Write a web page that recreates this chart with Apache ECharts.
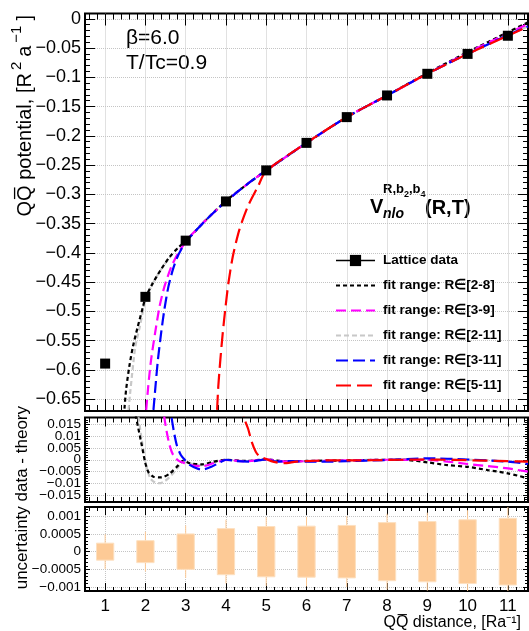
<!DOCTYPE html>
<html><head><meta charset="utf-8">
<script src="https://cdn.jsdelivr.net/npm/echarts@6/dist/echarts.min.js"></script>
<style>html,body{margin:0;padding:0;background:#fff}#c{width:529px;height:631px}</style>
</head><body><div id="c"></div>
<script>
// ---------- data ----------
const R = [1, 2, 3, 4, 5, 6, 7, 8, 9, 10, 11];
const latticeV = [-0.589, -0.475, -0.379, -0.312, -0.259, -0.212, -0.168, -0.131, -0.094, -0.060, -0.029];

const fit28 = [[1.48,-0.666],[1.52,-0.634],[1.60,-0.594],[1.69,-0.560],[1.81,-0.526],[1.94,-0.492],[2.0,-0.477],[2.18,-0.452],[2.38,-0.429],[2.6,-0.407],[2.8,-0.392],[3.0,-0.380],[3.5,-0.344],[4,-0.311],[4.5,-0.284],[5,-0.259],[6,-0.212],[7,-0.168],[8,-0.131],[9,-0.093],[10,-0.057],[11,-0.023],[11.5,-0.006]];
const fit39 = [[2.02,-0.668],[2.07,-0.628],[2.14,-0.583],[2.24,-0.537],[2.35,-0.492],[2.47,-0.458],[2.64,-0.424],[2.80,-0.402],[2.93,-0.388],[3.0,-0.380],[3.5,-0.344],[4,-0.312],[4.5,-0.284],[5,-0.259],[6,-0.212],[7,-0.168],[8,-0.131],[9,-0.094],[10,-0.058],[11,-0.025],[11.5,-0.009]];
const fit211 = [[1.58,-0.668],[1.62,-0.640],[1.69,-0.594],[1.75,-0.560],[1.86,-0.526],[1.96,-0.492],[2.0,-0.479],[2.2,-0.450],[2.4,-0.427],[2.6,-0.408],[2.8,-0.392],[3.0,-0.379],[3.5,-0.344],[4,-0.312],[4.5,-0.284],[5,-0.259],[6,-0.212],[7,-0.168],[8,-0.131],[9,-0.094],[10,-0.060],[11,-0.028],[11.5,-0.013]];
const fit311 = [[2.20,-0.668],[2.25,-0.628],[2.31,-0.583],[2.39,-0.537],[2.47,-0.497],[2.57,-0.458],[2.68,-0.429],[2.80,-0.406],[2.93,-0.389],[3.0,-0.381],[3.5,-0.344],[4,-0.312],[4.5,-0.284],[5,-0.259],[6,-0.212],[7,-0.168],[8,-0.131],[9,-0.094],[10,-0.060],[11,-0.028],[11.5,-0.013]];
const fit511 = [[3.78,-0.668],[3.81,-0.628],[3.86,-0.583],[3.92,-0.537],[3.99,-0.492],[4.06,-0.452],[4.17,-0.406],[4.33,-0.361],[4.54,-0.321],[4.79,-0.287],[5.0,-0.260],[6,-0.212],[7,-0.168],[8,-0.131],[9,-0.094],[10,-0.060],[11,-0.029],[11.5,-0.013]];

const res28 = [[1.70,0.025],[1.77,0.018],[1.84,0.012],[1.91,0.0062],[1.99,-0.0008],[2.07,-0.0051],[2.2,-0.0072],[2.4,-0.0075],[2.61,-0.0058],[2.82,-0.0023],[2.94,-0.0004],[3.1,-0.0015],[3.4,-0.0020],[3.69,-0.0008],[4.0,0],[4.5,-0.0005],[5.0,0.0002],[5.5,-0.0008],[6,-0.0005],[7,-0.0003],[8,0],[8.5,-0.0001],[9,-0.0011],[9.5,-0.0023],[10,-0.0030],[10.5,-0.0044],[11,-0.0058],[11.5,-0.0079]];
const res39 = [[2.42,0.025],[2.47,0.018],[2.53,0.0118],[2.60,0.0062],[2.69,0.0020],[2.82,-0.0004],[2.98,-0.0015],[3.19,-0.0025],[3.44,-0.0027],[3.69,-0.0015],[4,-0.0001],[4.5,-0.0007],[5,0.0002],[5.5,-0.0008],[6,-0.0006],[7,-0.0003],[8,0],[9,-0.0001],[9.5,-0.0008],[10,-0.0018],[10.5,-0.0027],[11,-0.0037],[11.5,-0.0051]];
const res211 = [[1.78,0.025],[1.83,0.018],[1.93,0.0062],[2.02,-0.0023],[2.12,-0.0079],[2.24,-0.0097],[2.35,-0.0100],[2.49,-0.0090],[2.65,-0.0065],[2.82,-0.0030],[2.94,-0.0008],[3.19,-0.0020],[3.44,-0.0023],[3.77,-0.0008],[4,0],[4.5,-0.0006],[5,0.0001],[5.5,-0.0007],[6,-0.0006],[7,-0.0002],[8,0],[9,0.0003],[10,0],[11,-0.0006],[11.5,-0.0010]];
const res311 = [[2.61,0.025],[2.65,0.018],[2.71,0.0118],[2.78,0.0062],[2.88,0.0020],[2.98,-0.0001],[3.11,-0.0023],[3.31,-0.0039],[3.44,-0.0041],[3.64,-0.0030],[3.85,-0.0011],[4,0],[4.26,-0.0006],[4.6,-0.0008],[5,0.0002],[5.26,-0.0008],[5.59,-0.0006],[6,-0.0008],[6.5,-0.0008],[7,-0.0006],[8,-0.0001],[9,0.0006],[10,0.0001],[11,-0.0008],[11.5,-0.0018]];
const res511 = [[4.42,0.025],[4.45,0.018],[4.55,0.0132],[4.64,0.0076],[4.74,0.0034],[4.84,0.0013],[5.0,0.0003],[5.17,-0.0008],[5.42,-0.0015],[5.75,-0.0008],[6,-0.0006],[6.5,-0.0003],[7,-0.0003],[8,-0.0001],[9,0.0001],[10,-0.0002],[11,-0.0006],[11.5,-0.0008]];

const uncBox = [0.00024, 0.00031, 0.00050, 0.00065, 0.00071, 0.00072, 0.00074, 0.00082, 0.00085, 0.00090, 0.00094];
const uncWhisk = [0.00049, 0.00056, 0.00074, 0.00090, 0.00097, 0.00098, 0.00100, 0.00107, 0.00110, 0.00117, 0.00130];

const xTicks = [1, 2, 3, 4, 5, 6, 7, 8, 9, 10, 11];
const topYTicks = [0, -0.05, -0.1, -0.15, -0.2, -0.25, -0.3, -0.35, -0.4, -0.45, -0.5, -0.55, -0.6, -0.65];
const midYTicks = [0.015, 0.01, 0.005, 0, -0.005, -0.01, -0.015];
const botYTicks = [0.001, 0.0005, 0, -0.0005, -0.001];

const seriesNames = ['Lattice data', 'fit range: R\u2208[2-8]', 'fit range: R\u2208[3-9]', 'fit range: R\u2208[2-11]', 'fit range: R\u2208[3-11]', 'fit range: R\u2208[5-11]'];

// ---------- helpers ----------
const FONT = '"Liberation Sans", Arial, Helvetica, sans-serif';
function minorTicks(min, max, step, majors) {
  const out = [];
  const n0 = Math.ceil(min / step - 1e-9), n1 = Math.floor(max / step + 1e-9);
  for (let i = n0; i <= n1; i++) {
    const v = +(i * step).toFixed(8);
    if (!majors.some(m => Math.abs(m - v) < step * 1e-3)) out.push(v);
  }
  return out;
}
const fmt = v => String(+v.toFixed(6)).replace('-', '\u2212');
const grids = [
  { left: 85, width: 443, top: 13.5, height: 397.5 },
  { left: 85, width: 443, top: 417.5, height: 84.5 },
  { left: 85, width: 443, top: 507, height: 84 }
];
const xR = [0.5, 11.5];
const yR = [[-0.67, 0.009], [-0.018, 0.018], [-0.00111, 0.00126]];
const yMaj = [topYTicks, midYTicks, botYTicks];
const yMinStep = [0.01, 0.001, 0.0001];
const tickLen = [[12, 6, 10, 5], [9, 5, 5, 3], [8, 4, 5, 3]];
const ySize = [18, 13.5, 13.5];
// label sets: the densely packed middle panel puts alternate labels on two axes
const yLabelSets = [
  [topYTicks, null],
  [midYTicks.filter((v, i) => i % 2 === 0), midYTicks.filter((v, i) => i % 2 === 1)],
  [botYTicks, null]
];

const xAxes = [], yAxes = [];
const gridLine = { show: true, lineStyle: { color: '#c4c4c4', type: 'dotted', width: 1 } };
grids.forEach((g, gi) => {
  const xMinor = minorTicks(xR[0], xR[1], 0.2, xTicks);
  const yMinor = minorTicks(yR[gi][0], yR[gi][1], yMinStep[gi], yMaj[gi]);
  const L = tickLen[gi];
  ['bottom', 'top'].forEach(pos => {
    [[xTicks, L[0]], [xMinor, L[1]]].forEach(([tk, len], k) => {
      const main = pos === 'bottom' && k === 0;
      xAxes.push({
        type: 'value', gridIndex: gi, position: pos, min: xR[0], max: xR[1],
        axisLine: { show: false, onZero: false },
        axisTick: { show: true, inside: true, length: len, customValues: tk, lineStyle: { color: '#000', width: 1 } },
        axisLabel: (main && gi === 2) ? { show: true, customValues: xTicks, fontFamily: FONT, fontSize: 17, color: '#000', margin: 7, hideOverlap: false, showMinLabel: true, showMaxLabel: true } : { show: false },
        splitLine: main ? gridLine : { show: false },
        minorTick: { show: false }, minorSplitLine: { show: false }
      });
    });
  });
  ['left', 'right'].forEach(pos => {
    [[yMaj[gi], L[2]], [yMinor, L[3]]].forEach(([tk, len], k) => {
      const main = pos === 'left' && k === 0;
      const labs = pos === 'left' ? yLabelSets[gi][k] : null;
      yAxes.push({
        type: 'value', gridIndex: gi, position: pos, min: yR[gi][0], max: yR[gi][1],
        axisLine: { show: false, onZero: false },
        axisTick: { show: true, inside: true, length: len, customValues: tk, lineStyle: { color: '#000', width: 1 } },
        axisLabel: labs ? { show: true, customValues: labs, formatter: fmt, fontFamily: FONT, fontSize: ySize[gi], lineHeight: Math.round(ySize[gi] * 0.75), color: '#000', margin: 4, hideOverlap: false, showMinLabel: true, showMaxLabel: true } : { show: false },
        splitLine: main ? gridLine : { show: false },
        minorTick: { show: false }, minorSplitLine: { show: false }
      });
    });
  });
});

const styles = {
  '28': { color: '#000000', type: [4, 3] },
  '39': { color: '#ff00ff', type: [10, 5] },
  '211': { color: '#c8c8c8', type: [5, 3] },
  '311': { color: '#0000ff', type: [12, 5] },
  '511': { color: '#ff0000', type: [15, 6] }
};
function curve(name, data, st, gi) {
  return {
    name: name, type: 'line', xAxisIndex: gi * 4, yAxisIndex: gi * 4, data: data,
    symbol: 'none', smooth: 0.25, clip: true, animation: false,
    lineStyle: { color: st.color, width: 2.2, type: st.type },
    itemStyle: { color: st.color }
  };
}
const series = [
  curve(seriesNames[3], fit211, styles['211'], 0),
  curve(seriesNames[1], fit28, styles['28'], 0),
  curve(seriesNames[2], fit39, styles['39'], 0),
  curve(seriesNames[4], fit311, styles['311'], 0),
  curve(seriesNames[5], fit511, styles['511'], 0),
  {
    name: seriesNames[0], type: 'line', xAxisIndex: 0, yAxisIndex: 0,
    data: R.map((r, i) => [r, latticeV[i]]), symbol: 'rect', symbolSize: 10, z: 10,
    itemStyle: { color: '#000' }, lineStyle: { width: 0, opacity: 0 }, animation: false
  },
  curve('r211', res211, styles['211'], 1),
  curve('r28', res28, styles['28'], 1),
  curve('r39', res39, styles['39'], 1),
  curve('r311', res311, styles['311'], 1),
  curve('r511', res511, styles['511'], 1),
  {
    name: 'uncertainty', type: 'custom', xAxisIndex: 8, yAxisIndex: 8, clip: true, animation: false,
    data: R.map((r, i) => [r, uncBox[i], uncWhisk[i]]),
    renderItem: function (params, api) {
      const x = api.value(0), b = api.value(1), w = api.value(2);
      const pt = api.coord([x, b]), pb = api.coord([x, -b]);
      const wt = api.coord([x, w]), wb = api.coord([x, -w]);
      const half = api.size([0.43, 0])[0] / 2;
      const col = '#fdca96';
      return {
        type: 'group', children: [
          { type: 'line', shape: { x1: pt[0], y1: wt[1], x2: pt[0], y2: wb[1] }, style: { stroke: col, lineWidth: 1 } },
          { type: 'rect', shape: { x: pt[0] - half, y: pt[1], width: half * 2, height: pb[1] - pt[1] }, style: { fill: col, stroke: '#fde0c0', lineWidth: 1 } }
        ]
      };
    }
  }
];

const legendData = [
  { name: seriesNames[0], lineStyle: { opacity: 1, width: 1.5, color: '#000', type: 'solid' } }
].concat(seriesNames.slice(1).map(n => ({ name: n, itemStyle: { opacity: 0 } })));

const tx = (text, x, y, font, extra) => Object.assign({
  type: 'text', x: x, y: y, silent: true,
  style: { text: text, font: font, fill: '#000', textAlign: 'left', textVerticalAlign: 'middle' }
}, extra || {});

const option = {
  backgroundColor: '#fff',
  animation: false,
  grid: grids.map(g => Object.assign({ show: true, borderColor: '#000', borderWidth: 2, backgroundColor: 'transparent' }, g)),
  xAxis: xAxes,
  yAxis: yAxes,
  legend: {
    left: 335, top: 253.5, padding: 0, orient: 'vertical', itemWidth: 39, itemHeight: 14, itemGap: 11,
    textStyle: { fontFamily: FONT, fontWeight: 'bold', fontSize: 13.5, color: '#000', lineHeight: 14, padding: [0, 0, 0, 3] },
    selectedMode: false,
    data: legendData
  },
  series: series,
  graphic: [
    tx('\u03b2=6.0', 126, 38, '21px ' + FONT),
    tx('T/Tc=0.9', 126, 63, '21px ' + FONT),
    tx('V', 370, 207, 'bold 20px ' + FONT),
    {
      type: 'text', x: 383, y: 191, silent: true,
      style: {
        text: '{a|R,b}{s|2}{a|,b}{s|4}', textAlign: 'left', textVerticalAlign: 'middle',
        rich: {
          a: { font: 'bold 13px ' + FONT, fill: '#000', lineHeight: 16, verticalAlign: 'top' },
          s: { font: 'bold 9px ' + FONT, fill: '#000', lineHeight: 16, verticalAlign: 'bottom' }
        }
      }
    },
    tx('nlo', 383, 214, 'italic bold 14px ' + FONT),
    tx('(R,T)', 425, 208, 'bold 20px ' + FONT),
    {
      type: 'text', x: 22, y: 15, rotation: Math.PI / 2, silent: true,
      style: {
        text: '{n|QQ\u0305 potential, [R}{s|2}{n|a}{s|\u22121}{n|]}', textAlign: 'right', textVerticalAlign: 'middle',
        rich: {
          n: { font: '20px ' + FONT, fill: '#000', lineHeight: 26, verticalAlign: 'bottom' },
          s: { font: '15px ' + FONT, fill: '#000', lineHeight: 26, verticalAlign: 'top', padding: [0, 5, 0, 3] }
        }
      }
    },
    {
      type: 'text', x: 22, y: 406, rotation: Math.PI / 2, silent: true,
      style: { text: 'uncertainty data - theory', font: '17px ' + FONT, fill: '#000', textAlign: 'right', textVerticalAlign: 'middle' }
    },
    tx('QQ\u0305 distance, [Ra\u207b\u00b9]', 521, 623, '16px ' + FONT, {}),
  ]
};
option.graphic[option.graphic.length - 1].style.textAlign = 'right';

const chart = echarts.init(document.getElementById('c'), null, { renderer: 'canvas' });
chart.setOption(option);
</script>
</body></html>
